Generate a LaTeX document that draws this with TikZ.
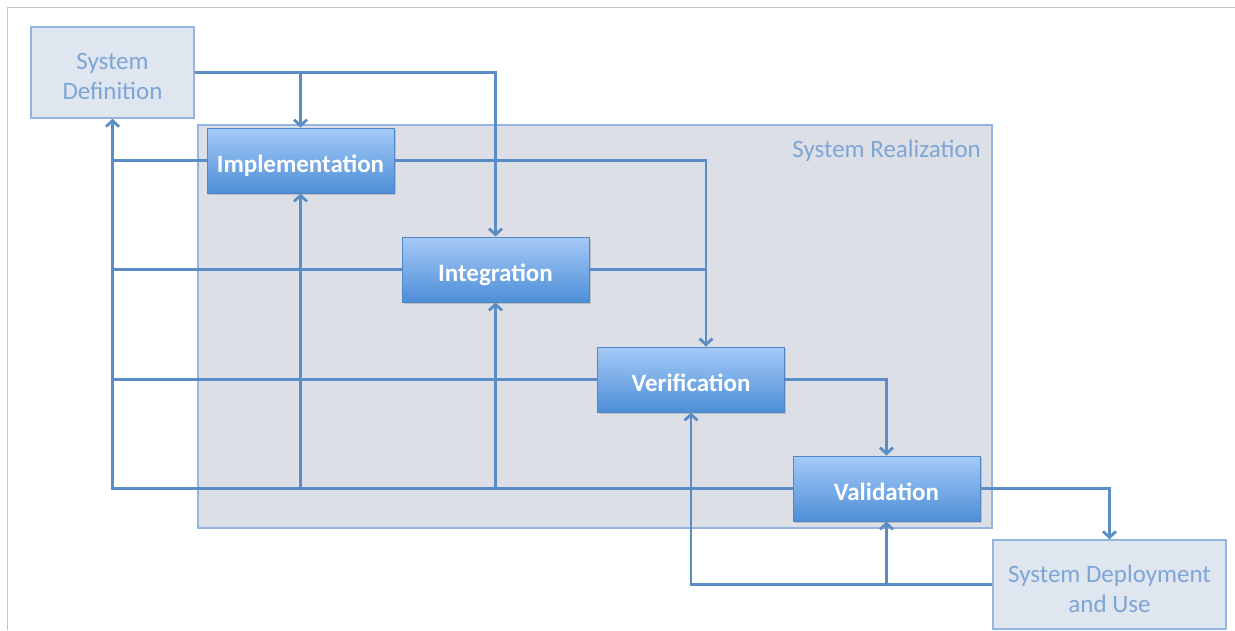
\documentclass[tikz,border=0pt]{standalone}
\usepackage{fontspec}
\setmainfont{Carlito}
\usetikzlibrary{arrows.meta,shadows}

\definecolor{linkblue}{HTML}{5A8CC6}
\definecolor{boxtop}{HTML}{A5CAF8}
\definecolor{boxbot}{HTML}{4D8ED6}
\definecolor{boxedge}{HTML}{4E86C6}
\definecolor{paleblue}{HTML}{DFE6EF}
\definecolor{palegray}{HTML}{DCE0E6}
\definecolor{paletext}{HTML}{7DA5D6}
\definecolor{paleedge}{HTML}{93B5DF}

\begin{document}
\begin{tikzpicture}[x=1pt,y=-1pt,
    phase/.style={draw=boxedge, line width=1pt, top color=boxtop, bottom color=boxbot,
      text=white, font=\fontsize{25}{30}\selectfont\bfseries,
      minimum width=187pt, minimum height=65pt, inner sep=0pt,
      text height=23pt, text depth=0pt,
      drop shadow={opacity=0.35, shadow xshift=1.5pt, shadow yshift=-2pt}},
    outer/.style={draw=paleedge, line width=1.5pt, fill=paleblue, text=paletext,
      font=\fontsize{25}{30}\selectfont, align=center, inner sep=0pt},
    link/.style={draw=linkblue, line width=2.8pt},
    feed/.style={link, -{Straight Barb[length=6pt,width=13pt]}}
  ]

  \useasboundingbox (0,0) rectangle (1235,630);
  \draw[black!22, line width=1pt] (7,630) -- (7,7) -- (1235,7);

  % the realization block
  \node[outer, fill=palegray, minimum width=794pt, minimum height=403pt] (real) at (595,326.5) {};
  \node[text=paletext, font=\fontsize{25}{30}\selectfont, inner sep=0pt, anchor=base east]
    (reallabel) at (981,157) {System Realization};

  \node[outer, minimum width=163pt, minimum height=91pt, text height=53pt, text depth=0pt]
    (sysdef) at (112.5,72.5) {System\\Definition};
  \node[outer, minimum width=233pt, minimum height=89pt, text height=55pt, text depth=0pt]
    (deploy) at (1109.5,584.5) {System Deployment\\and Use};

  \node[phase] (impl)  at (300.5,160.5) {Implementation};
  \node[phase] (integ) at (495.5,269.5) {Integration};
  \node[phase] (verif) at (691,379.5)   {Verification};
  \node[phase] (valid) at (886.5,488.5) {Validation};

  % forward
  \draw[feed] (sysdef.east) -| (integ.north);
  \draw[feed] (impl.north |- sysdef.east) -- (impl.north);
  \coordinate (vin) at ([xshift=15pt]verif.north);
  \draw[feed] (impl.east) -| (vin);
  \draw[link] (integ.east) -- (integ.east -| vin);
  \draw[feed] (verif.east) -| (valid.north);
  \draw[feed] (valid.east) -| (deploy.north);

  % back
  \draw[feed] (valid.west) -| (sysdef.south);
  \draw[link] (impl.west) -- (impl.west -| sysdef.south);
  \draw[link] (integ.west) -- (integ.west -| sysdef.south);
  \draw[link] (verif.west) -- (verif.west -| sysdef.south);
  \draw[feed] (impl.south |- valid.west) -- (impl.south);
  \draw[feed] (integ.south |- valid.west) -- (integ.south);
  \draw[feed] (deploy.west) -| (verif.south);
  \draw[feed] (valid.south |- deploy.west) -- (valid.south);
\end{tikzpicture}
\end{document}
